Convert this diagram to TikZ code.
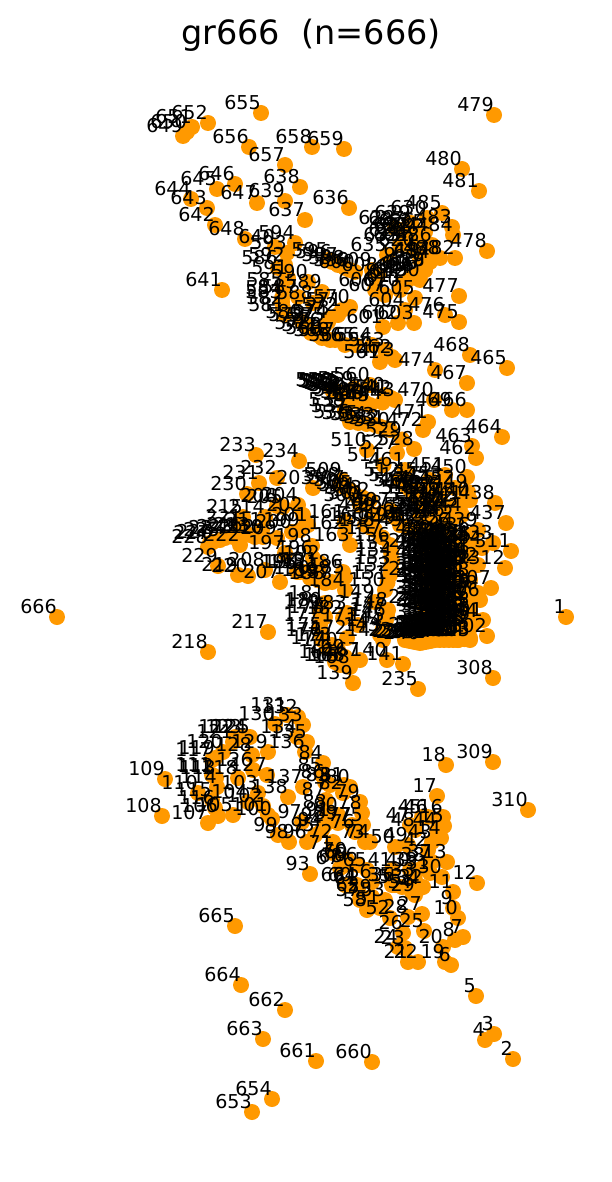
\documentclass[tikz,border=0pt]{standalone}
\usepackage{fontspec}
\setmainfont{DejaVu Sans}
\definecolor{dotorange}{HTML}{FF9900}
\tikzset{
  dotmark/.style={circle,fill=dotorange,draw=none,inner sep=0pt,minimum size=16pt},
  numlabel/.style={anchor=base east,inner sep=0pt,text=black,font=\fontsize{19.1}{21}\selectfont},
  titlelabel/.style={anchor=center,inner sep=0pt,text=black,font=\fontsize{33.5}{38}\selectfont}
}
\newcommand{\ptlist}{
1/566/617,2/513/1059,3/494/1034,4/485/1040,5/476/996,6/451/965,7/463/937,8/455/940,9/453/908,10/458/918,
11/453/892,12/477/883,13/447/862,14/441/838,15/444/826,16/443/817,17/437/796,18/446/765,19/445/962,20/443/947,
21/408/962,22/418/962,23/405/948,24/398/947,25/424/931,26/403/933,27/422/914,28/408/917,29/415/895,30/442/877,
31/430/873,32/423/887,33/415/880,34/420/888,35/392/885,36/395/885,37/432/862,38/425/865,39/418/870,40/410/870,
41/392/870,42/428/850,43/432/842,44/437/830,45/422/817,46/428/817,47/410/825,48/415/830,49/408/845,50/395/847,
51/380/908,52/390/918,53/385/900,54/412/892,55/402/887,56/372/882,57/360/900,58/367/910,59/372/897,60/352/885,
61/358/888,62/360/895,63/345/885,64/357/885,65/367/870,66/358/865,67/340/868,68/343/866,69/348/862,70/347/860,
71/333/853,72/333/842,73/365/842,74/370/842,75/363/825,76/355/832,77/352/825,78/362/813,79/360/802,80/350/787,
81/344/785,82/343/793,83/330/785,84/323/763,85/322/775,86/325/782,87/326/800,88/327/812,89/338/823,90/338/815,
91/330/820,92/325/825,93/310/874,94/322/830,95/315/835,96/307/842,97/302/822,98/289/842,99/278/835,100/272/819,
101/268/815,102/263/806,103/258/793,104/248/802,105/233/815,106/218/816,107/208/823,108/162/816,109/165/779,110/198/793,
111/212/775,112/214/776,113/216/778,114/217/787,115/212/800,116/215/808,117/212/760,118/238/778,119/215/758,120/223/752,
121/233/742,122/235/737,123/242/737,124/247/737,125/250/737,126/253/770,127/267/775,128/252/755,129/268/752,130/275/724,
131/287/715,132/298/717,133/303/725,134/297/737,135/307/742,136/305/752,137/303/787,138/288/797,139/353/683,140/387/660,
141/403/664,142/383/640,143/380/635,145/385/625,148/388/610,149/375/602,150/385/590,152/390/575,154/392/560,156/390/545,
158/375/530,160/365/525,161/345/522,162/345/533,163/350/545,164/335/662,165/340/665,166/345/665,167/360/660,168/350/667,
169/345/657,170/338/650,171/358/625,172/347/638,173/332/645,174/327/648,175/322/635,176/322/640,177/320/625,178/325/617,
179/320/612,180/322/610,181/325/603,182/343/618,183/347/613,184/345/590,185/345/577,186/343/572,187/332/582,188/325/583,
189/318/580,190/310/578,191/318/570,192/320/563,193/305/572,194/300/572,195/297/572,196/313/558,197/285/553,198/312/546,
199/300/530,200/292/532,201/308/525,202/303/515,203/313/488,204/298/505,205/283/507,206/277/506,207/280/582,208/265/570,
209/277/538,210/263/537,211/262/530,212/255/537,213/250/535,214/265/517,215/243/517,216/243/535,217/268/632,218/208/652,
219/238/575,220/248/576,221/242/527,222/240/545,223/233/537,224/225/538,225/220/540,226/213/542,227/210/543,228/208/547,
229/218/566,230/247/494,231/259/483,232/277/478,233/256/455,234/299/461,235/418/689,236/405/640,240/420/643,245/435/640,
250/458/640,257/425/635,264/478/621,271/425/607,278/478/593,285/425/579,292/478/565,299/425/551,300/440/545,
301/483/620,302/487/636,303/470/638,304/458/640,305/470/610,306/480/600,307/491/588,308/493/678,309/493/762,310/528/810,
311/511/551,312/505/568,313/470/640,320/432/634,327/470/628,334/432/622,341/470/616,348/432/610,355/470/604,362/432/598,
369/470/592,376/432/586,383/470/580,390/432/574,397/470/568,404/432/562,411/470/556,418/432/550,425/470/544,432/432/538,
433/493/543,434/482/548,435/472/545,436/470/535,437/506/523,438/495/503,439/478/530,440/470/500,442/455/505,444/462/515,
446/445/520,448/440/500,449/468/492,450/467/477,451/445/475,452/455/488,454/430/480,456/440/495,458/425/495,460/415/490,
461/405/470,462/476/458,463/472/446,464/502/437,465/507/368,466/467/410,467/467/383,468/470/355,469/452/410,470/434/400,
471/428/422,472/423/430,473/395/360,474/435/370,475/459/322,476/445/315,477/459/296,478/487/251,479/494/115,480/462/169,
481/479/191,482/455/258,483/452/227,484/453/235,485/442/213,486/432/245,487/430/260,488/440/258,489/425/270,490/420/280,
491/430/520,493/415/530,495/400/525,497/390/510,499/375/515,500/360/505,502/370/500,504/355/495,506/350/490,508/340/485,
509/342/480,510/367/450,512/400/480,514/410/490,516/425/505,518/435/515,520/420/515,522/445/510,524/430/525,526/450/530,
527/397/453,528/414/449,530/390/430,533/375/425,536/350/422,538/345/410,540/385/395,543/395/400,545/370/405,548/350/400,
550/345/395,553/338/392,556/332/390,558/338/392,560/370/385,561/380/362,562/392/357,563/385/350,564/372/345,565/355/345,
566/345/345,567/335/340,568/330/340,569/322/338,570/350/307,571/342/310,572/338/315,573/330/318,574/328/322,575/325/325,
576/322/330,577/318/335,578/311/333,579/305/325,580/302/322,581/285/315,582/283/308,583/282/302,584/282/298,585/283/290,
586/278/268,587/298/297,588/313/303,589/322/292,590/308/282,591/288/278,592/285/265,593/287/253,594/295/243,595/328/260,
596/332/262,597/338/265,598/345/268,599/350/270,600/355/272,601/383/327,602/398/323,603/414/323,604/405/310,605/415/298,
606/375/290,607/385/295,608/378/275,609/372/270,610/400/290,612/405/282,615/415/275,618/425/270,620/415/250,622/405/240,
625/425/232,628/395/228,630/427/218,631/410/235,632/420/245,633/400/245,634/430/262,635/387/255,636/349/208,637/305/220,
638/300/187,639/285/201,640/275/247,641/222/290,642/215/225,643/207/208,644/191/199,645/217/189,646/235/184,647/257/203,
648/245/239,649/183/136,650/187/132,651/192/127,652/208/123,653/252/1112,654/272/1099,655/261/113,656/249/147,657/285/165,
658/312/147,659/344/149,660/372/1062,661/316/1061,662/285/1010,663/263/1039,664/241/985,665/235/926,666/57/617}
\newcommand{\walkpts}[1]{%
  \foreach \ni/\nx/\ny [remember=\ni as \lasti (initially 0),remember=\nx as \lastx (initially 566),remember=\ny as \lasty (initially 617)] in \ptlist {%
    \pgfmathtruncatemacro{\fromi}{\lasti+1}%
    \foreach \k in {\fromi,...,\ni} {%
      \pgfmathsetmacro{\qx}{\lastx+(\nx-\lastx)*(\k-\lasti)/(\ni-\lasti)}%
      \pgfmathsetmacro{\qy}{\lasty+(\ny-\lasty)*(\k-\lasti)/(\ni-\lasti)}%
      #1%
    }%
  }%
}
\begin{document}
\begin{tikzpicture}[x=1pt,y=-1pt]
  \useasboundingbox (0,0) rectangle (611,1182);
  \node[titlelabel] (title) at (311,35) {gr666\ \ (n=666)};
  \walkpts{\node[dotmark] (p\k) at (\qx,\qy) {};}
  \walkpts{\node[numlabel] (l\k) at (\qx,\qy-3.5) {\k};}
\end{tikzpicture}
\end{document}
